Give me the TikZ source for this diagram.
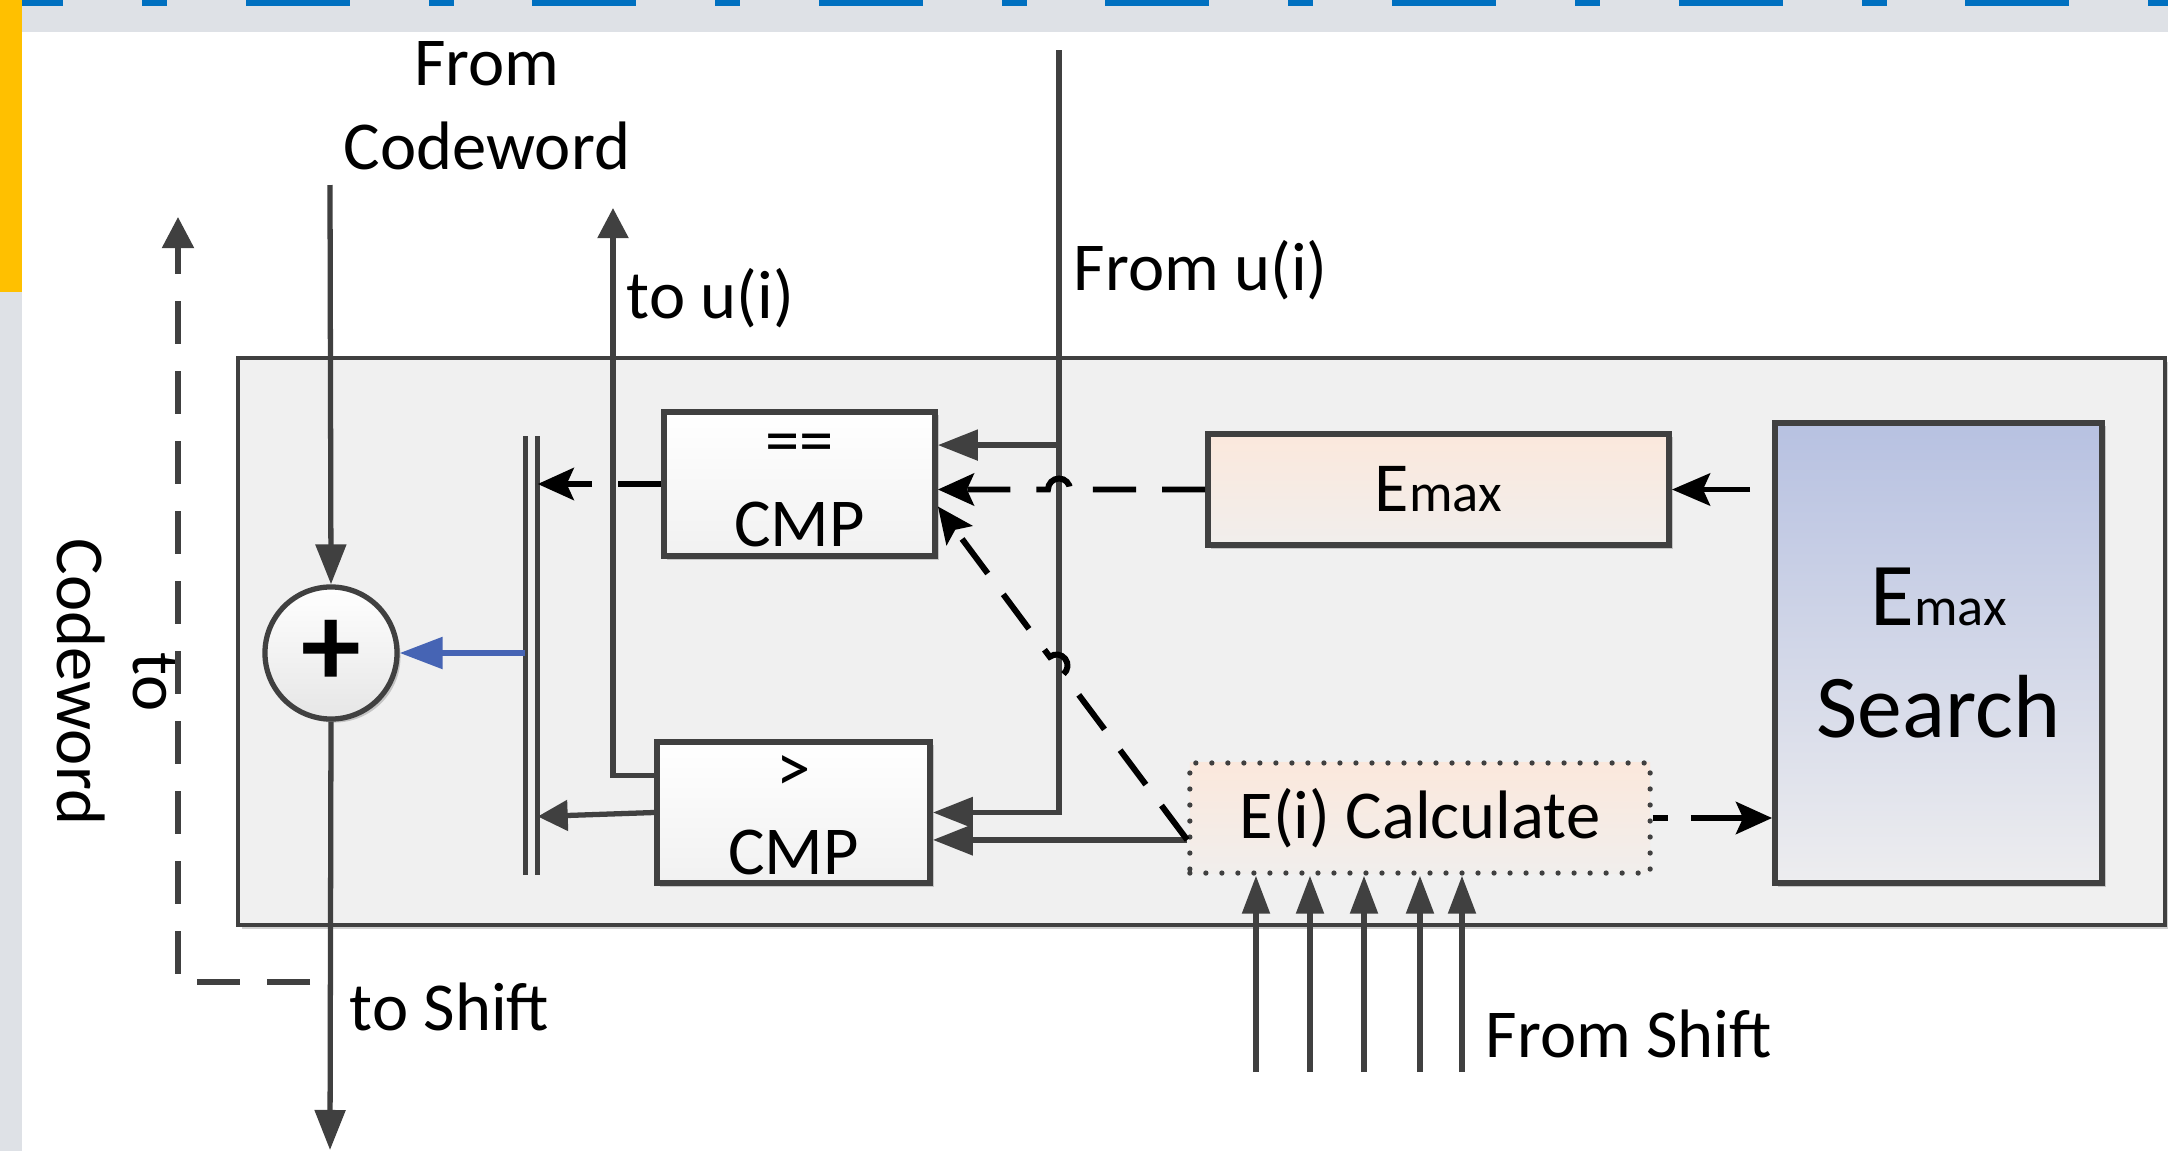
\documentclass[tikz,border=0pt]{standalone}
\usepackage{fontspec}
\setmainfont{Carlito}
\usetikzlibrary{arrows.meta,calc,shadows}
\definecolor{gris}{HTML}{404040}
\definecolor{grisclair}{HTML}{F1F1F1}
\definecolor{fondgris}{HTML}{F0F0F0}
\definecolor{bandeau}{HTML}{DEE1E6}
\definecolor{bleuhaut}{HTML}{0070C0}
\definecolor{jaune}{HTML}{FFC000}
\definecolor{bleufleche}{HTML}{4664B4}
\definecolor{pecheh}{HTML}{FBE8DC}
\definecolor{pecheb}{HTML}{F1EEEC}
\definecolor{bleuh}{HTML}{B7C1E1}
\definecolor{bleub}{HTML}{EDEDEF}
\begin{document}
\begin{tikzpicture}[x=0.01cm,y=-0.01cm]
\tikzstyle{ombre} = [drop shadow={shadow xshift=0.035cm,shadow yshift=-0.035cm,opacity=0.18,fill=black}]
\tikzstyle{fond} = [fill=fondgris,draw=gris,line width=1.1pt,ombre]
\tikzstyle{cercle} = [circle,draw=gris,line width=1.5pt,minimum size=1.32cm,inner sep=0pt,top color=white,bottom color=grisclair!90!gray,font=\fontsize{34}{34}\selectfont\bfseries,ombre]
\tikzstyle{cmp} = [rectangle,draw=gris,line width=1.6pt,top color=white,bottom color=grisclair,inner sep=0pt,align=center,font=\fontsize{19.5}{23.5}\selectfont,ombre]
\tikzstyle{registre} = [rectangle,draw=gris,line width=1.6pt,top color=pecheh,bottom color=pecheb,inner sep=0pt,font=\fontsize{20}{24}\selectfont,ombre]
\tikzstyle{recherche} = [rectangle,draw=gris,line width=1.6pt,top color=bleuh,bottom color=bleub,inner sep=0pt,align=center,font=\fontsize{25.5}{32}\selectfont,ombre]
\tikzstyle{calcul} = [rectangle,draw=gris,line width=1.5pt,line cap=round,dash pattern=on 0pt off 0.16cm,top color=pecheh,bottom color=pecheb,inner sep=0pt,font=\fontsize{19.5}{23.5}\selectfont]
\tikzstyle{etiquette} = [font=\fontsize{19.5}{24}\selectfont,inner sep=0pt]
\tikzstyle{fleche} = [draw=gris,line width=1.5pt,-{Triangle[length=0.4cm,width=0.3cm]}]
\tikzstyle{flechecourte} = [draw=gris,line width=1.5pt,-{Triangle[length=0.3cm,width=0.3cm]}]
\tikzstyle{flechebleue} = [draw=bleufleche,line width=1.6pt,-{Triangle[length=0.43cm,width=0.31cm]}]
\tikzstyle{flechenoire} = [draw=black,line width=1.7pt,-{Stealth[length=0.38cm,width=0.32cm,inset=0.07cm]}]
\tikzstyle{tirets} = [draw=black,line width=1.7pt,dash pattern=on 0.43cm off 0.26cm,-{Stealth[length=0.36cm,width=0.32cm,inset=0.07cm]}]
\tikzstyle{tiretsgris} = [draw=gris,line width=1.5pt,dash pattern=on 0.43cm off 0.27cm,-{Triangle[length=0.31cm,width=0.31cm]}]

%fond de l'ecran
\useasboundingbox (0,0) rectangle (2168,1151);
\fill[white] (0,0) rectangle (2168,1151);
\fill[bandeau] (0,0) rectangle (2168,32);
\foreach \k in {0,...,7}{
  \fill[bleuhaut] (-41+286.6*\k,0) rectangle +(104,6);
  \fill[bleuhaut] (142+286.6*\k,0) rectangle +(25,6);
}
\fill[jaune] (0,0) rectangle (22,292);
\fill[bandeau] (0,292) rectangle (22,1151);

%bloc principal
\draw[fond] (238,358) rectangle (2165,925);

%les blocs
\node[cercle] (plus) at (331,653) {+};
\node[minimum width=0.11cm,minimum height=4.37cm,inner sep=0pt] (bus) at (531.5,655.5) {};
\node[cmp,minimum width=2.71cm,minimum height=1.44cm] (cmpeq) at (799.5,484) {\rule{0pt}{0.42cm}==\\CMP};
\node[cmp,minimum width=2.73cm,minimum height=1.41cm] (cmpgt) at (793.5,812.5) {\rule{0pt}{0.42cm}>\\CMP};
\node[registre,minimum width=4.61cm,minimum height=1.11cm] (emaxreg) at (1438.5,489.5) {E{\fontsize{15.5}{18}\selectfont max}};
\node[recherche,minimum width=3.27cm,minimum height=4.6cm] (search) at (1938.5,653) {E{\fontsize{15.5}{18}\selectfont max}\\Search};
\node[calcul,minimum width=4.6cm,minimum height=1.1cm] (calc) at (1420,818) {E(i) Calculate};

%les etiquettes
\node[etiquette,align=center] (fromcw) at (487,106) {From\\Codeword};
\node[etiquette,anchor=base west] (toui) at (626,318) {to u(i)};
\node[etiquette,anchor=base west] (fromui) at (1073,290) {From u(i)};
\node[etiquette,anchor=base west] (toshift) at (349,1030) {to Shift};
\node[etiquette,anchor=base west] (fromshift) at (1485,1057) {From Shift};
\node[etiquette,align=center,rotate=-90,font=\fontsize{19.5}{21.6}\selectfont] (tocw) at (117,682) {to\\Codeword};

%codeword : entree, sortie, retour
\coordinate (cwin) at (330,185);
\coordinate (sortie) at (330,1150);
\coordinate (tcw1) at (310,982);
\coordinate (tcw2) at (178,217);
\draw[fleche] (cwin) -- (plus.north);
\draw[fleche] (plus.south) -- (sortie);
\draw[tiretsgris] (tcw1) -| (tcw2);

%le bus double
\draw[gris,line width=1.5pt] (bus.north west) -- (bus.south west);
\draw[gris,line width=1.5pt] (bus.north east) -- (bus.south east);
\draw[flechebleue] (bus.west |- plus.east) -- (plus.east);
\draw[tirets] (cmpeq.west) -- (cmpeq.west -| bus.east);
\draw[flechecourte] (cmpgt.west) -- ([yshift=-0.04cm]cmpgt.west -| bus.east);

%u(i)
\coordinate (tou) at (613,208);
\coordinate (fui) at (1059,50);
\coordinate (eqa) at ($(cmpeq.north east)!0.24!(cmpeq.south east)$);
\draw[flechecourte] ($(cmpgt.north west)!0.25!(cmpgt.south west)$) -| (tou);
\draw[fleche] (fui) |- (cmpgt.east);
\draw[fleche] (eqa -| fui) -- (eqa);

%Emax, avec saut
\draw[tirets] (emaxreg.west) -- ([xshift=0.11cm]emaxreg.west -| fui) arc[start angle=0,end angle=180,radius=0.11cm] -- (emaxreg.west -| cmpeq.east);
\draw[flechenoire] ([xshift=-0.22cm]search.west |- emaxreg.east) -- (emaxreg.east);
\draw[tirets,dash pattern=on 0.15cm off 0.23cm on 1cm off 0.2cm] (calc.east) -- (calc.east -| search.west);

%E(i) vers les comparateurs
\coordinate (cg) at ($(calc.north west)!0.69!(calc.south west)$);
\coordinate (eqb) at ($(cmpeq.north east)!0.65!(cmpeq.south east)$);
\coordinate (h1) at ($(cg)!0.497!(eqb)$);
\draw[fleche] (cg) -- (cg -| cmpgt.east);
\draw[tirets] (cg) -- (h1) arc[start angle=308,end angle=488,radius=0.11cm] -- (eqb);

%entrees Shift
\foreach \x [count=\i] in {1256,1310,1364,1420,1462}{
  \coordinate (s\i) at (\x,1072);
  \draw[fleche,-{Triangle[length=0.38cm,width=0.27cm]}] (s\i) -- (s\i |- calc.south);
}
\end{tikzpicture}
\end{document}
